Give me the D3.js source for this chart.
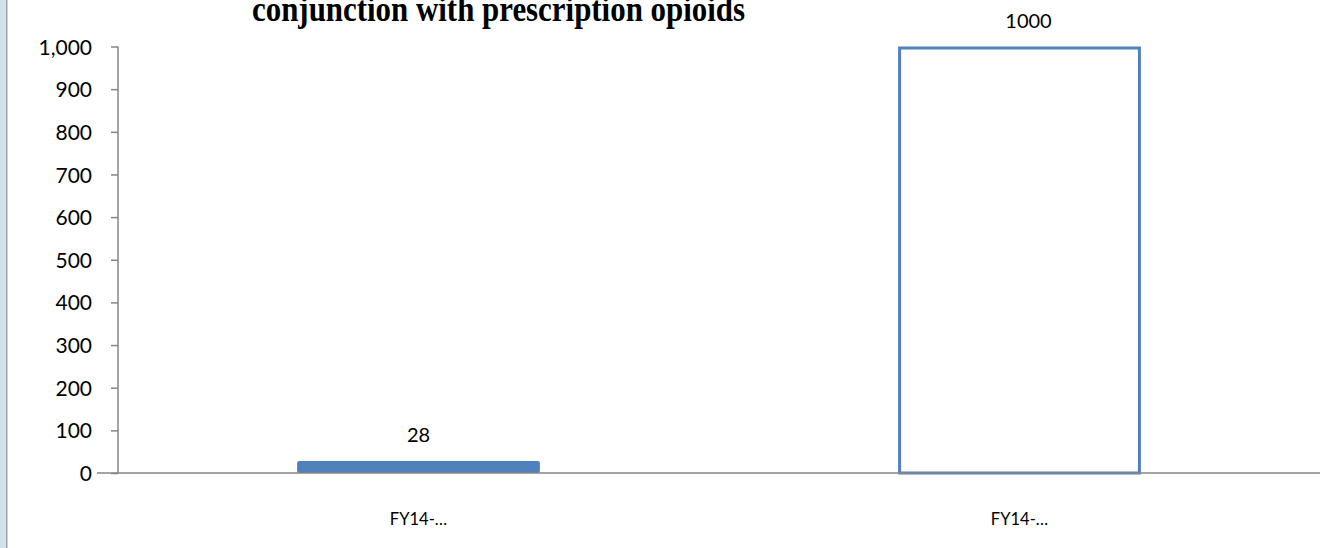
<!DOCTYPE html>
<html>
<head>
<meta charset="utf-8">
<script src="https://cdn.jsdelivr.net/npm/d3@7"></script>
<style>
  body { margin: 0; background: #fff; }
  svg { display: block; }
  .tick text { font-family: Lato, "Open Sans", sans-serif; fill: #000; }
</style>
</head>
<body>
<div id="chart"></div>
<script>
// Chart data
const categories = ['FY14-…', 'FY14-… '];
const values = [28, 1000];
const filled = [true, false];
const yTicks = [0, 100, 200, 300, 400, 500, 600, 700, 800, 900, 1000];

const svgWidth = 1323;
const svgHeight = 548;
const margin = { top: 46.5, right: 3, bottom: 75, left: 118 };

const svg = d3.select('#chart')
  .append('svg')
  .attr('width', svgWidth)
  .attr('height', svgHeight);

// left decoration strip
svg.append('rect')
  .attr('x', 0).attr('y', 0)
  .attr('width', 6).attr('height', svgHeight)
  .attr('fill', '#cfe3e8');
svg.append('rect')
  .attr('x', 6).attr('y', 0)
  .attr('width', 1.5).attr('height', svgHeight)
  .attr('fill', '#9aa3a6');

// Title (only the second line is visible, top is cut in the original)
svg.append('text')
  .attr('x', 252)
  .attr('y', 21)
  .attr('font-family', '"Liberation Serif", "Times New Roman", serif')
  .attr('font-weight', 'bold')
  .attr('font-size', '36px')
  .attr('textLength', 493)
  .attr('lengthAdjust', 'spacingAndGlyphs')
  .text('conjunction with prescription opioids');

// Scales
const xScale = d3.scaleBand()
  .domain(categories)
  .range([margin.left, svgWidth - margin.right])
  .paddingInner(0.596)
  .paddingOuter(0.298);

const yScale = d3.scaleLinear()
  .domain([0, 1000])
  .range([svgHeight - margin.bottom, margin.top]);

// Y axis
const yAxis = d3.axisLeft(yScale)
  .tickValues(yTicks)
  .tickSize(7)
  .tickPadding(19)
  .tickFormat(d3.format(','));

const gy = svg.append('g')
  .attr('transform', 'translate(' + margin.left + ',0)')
  .call(yAxis);
gy.selectAll('line').attr('stroke', '#868686').attr('stroke-width', 1.5);
gy.select('.domain').attr('stroke', '#868686').attr('stroke-width', 1.5)
  .attr('d', 'M0,' + yScale(1000) + 'V' + yScale(0));
gy.selectAll('text').attr('font-size', '21px').attr('dy', '0.36em');

// Bars
svg.selectAll('.bar')
  .data(values)
  .enter()
  .append('rect')
  .attr('class', 'bar')
  .attr('x', (d, i) => xScale(categories[i]) + (filled[i] ? 0 : 1.5))
  .attr('y', (d, i) => yScale(d) + (filled[i] ? 0 : 1.5))
  .attr('width', (d, i) => xScale.bandwidth() - (filled[i] ? 0 : 3))
  .attr('height', (d, i) => yScale(0) - yScale(d) - (filled[i] ? 0 : 1.5))
  .attr('rx', (d, i) => filled[i] ? 2 : 0)
  .attr('fill', (d, i) => filled[i] ? '#4f81bd' : 'none')
  .attr('stroke', (d, i) => filled[i] ? 'none' : '#4f81bd')
  .attr('stroke-width', 3);

// X axis
const xAxis = d3.axisBottom(xScale).tickSize(0).tickPadding(40);
const gx = svg.append('g')
  .attr('transform', 'translate(0,' + yScale(0) + ')')
  .call(xAxis);
gx.select('.domain').attr('stroke', '#868686').attr('stroke-width', 1.5)
  .attr('d', 'M97,0H' + (svgWidth - margin.right));
gx.selectAll('text').attr('font-size', '16.5px');

// Value labels
svg.selectAll('.val')
  .data(values)
  .enter()
  .append('text')
  .attr('class', 'val')
  .attr('x', (d, i) => xScale(categories[i]) + xScale.bandwidth() / 2 + (i === 1 ? 9 : 0))
  .attr('y', (d) => yScale(d) - 19)
  .attr('text-anchor', 'middle')
  .attr('font-family', 'Lato, "Open Sans", sans-serif')
  .attr('font-size', '20px')
  .text((d) => d);
</script>
</body>
</html>
